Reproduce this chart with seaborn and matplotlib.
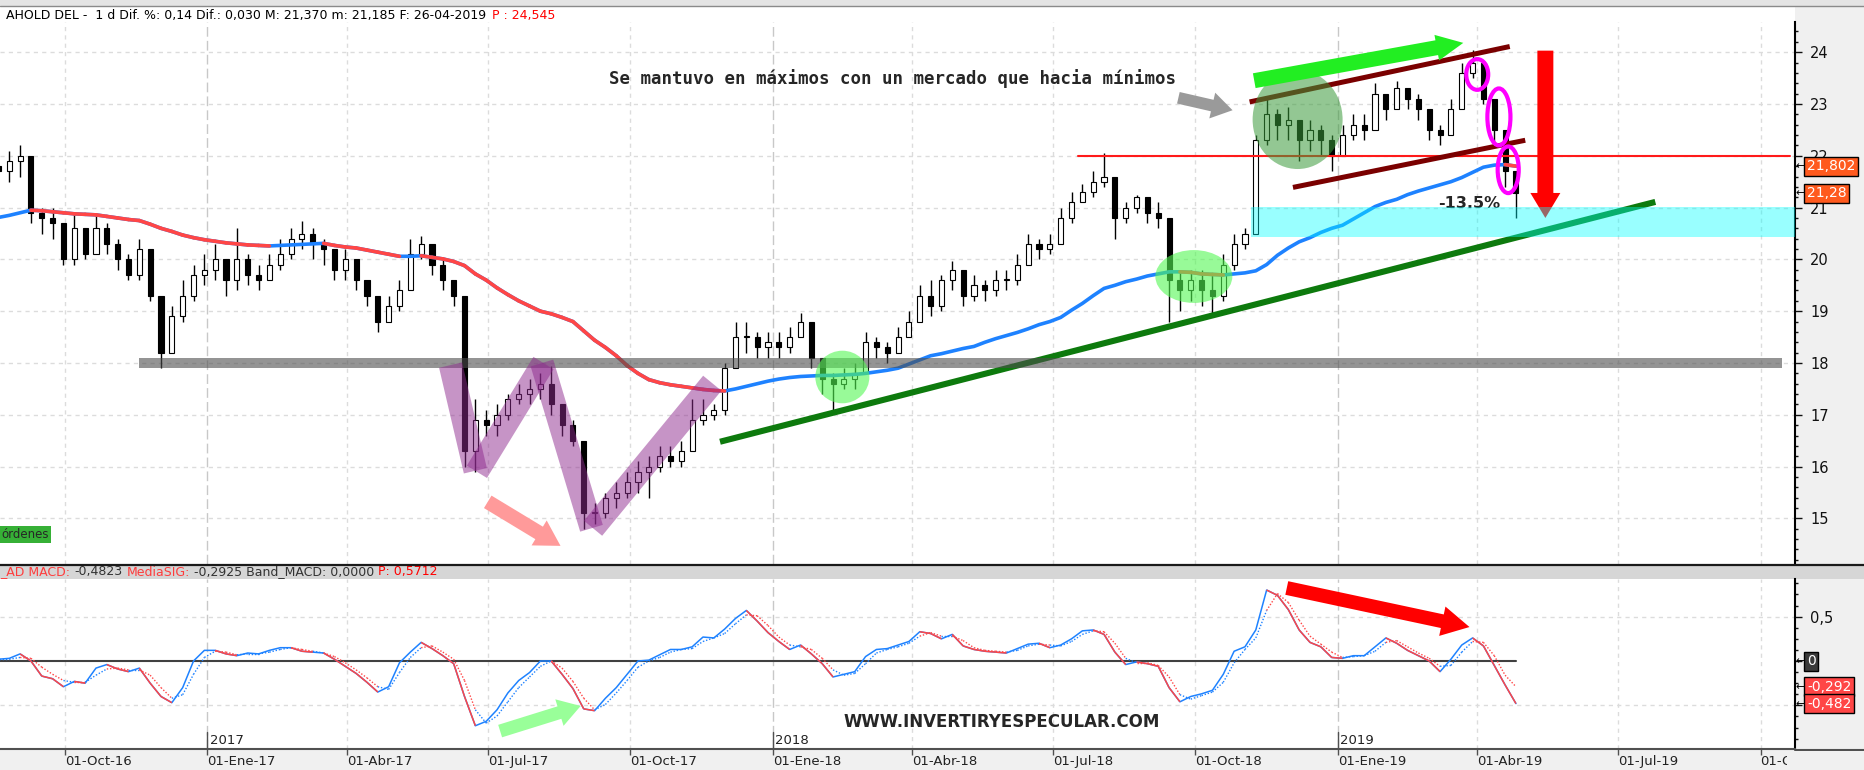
import numpy as np
import pandas as pd
import seaborn as sns
import matplotlib.pyplot as plt
import matplotlib.dates as mdates
from matplotlib.collections import LineCollection
from matplotlib.patches import Ellipse, Rectangle
from matplotlib.lines import Line2D
from matplotlib.ticker import MultipleLocator, FixedLocator

# weekly candles (AHOLD DEL)
week_end = pd.date_range('2016-08-19', '2019-04-26', freq='W-FRI')

close = [21.7, 21.9, 22.0, 20.9, 20.8, 20.7, 20.0, 20.6, 20.1, 20.6,
         20.3, 20.0, 19.7, 20.2, 19.3, 18.2, 18.9, 19.3, 19.7, 19.8,
         20.0, 19.6, 20.0, 19.7, 19.6, 19.9, 20.1, 20.4, 20.5, 20.3,
         20.2, 19.8, 20.0, 19.6, 19.3, 18.8, 19.1, 19.4, 20.1, 20.3,
         19.9, 19.6, 19.3, 16.3, 16.9, 16.8, 17.0, 17.3, 17.4, 17.5,
         17.6, 17.2, 16.8, 16.5, 15.1, 15.1, 15.4, 15.5, 15.7, 15.9,
         16.0, 16.2, 16.1, 16.3, 16.9, 17.0, 17.1, 17.9, 18.5, 18.5,
         18.3, 18.4, 18.3, 18.5, 18.8, 18.1, 17.7, 17.6, 17.7, 17.8,
         18.4, 18.3, 18.2, 18.5, 18.8, 19.3, 19.1, 19.6, 19.8, 19.3,
         19.5, 19.4, 19.6, 19.6, 19.9, 20.3, 20.2, 20.3, 20.8, 21.1,
         21.3, 21.5, 21.6, 20.8, 21.0, 21.2, 20.9, 20.8, 19.6, 19.4,
         19.6, 19.4, 19.3, 19.9, 20.3, 20.5, 22.3, 22.8, 22.6, 22.7,
         22.3, 22.5, 22.3, 22.0, 22.4, 22.6, 22.5, 23.2, 22.9, 23.3,
         23.1, 22.9, 22.5, 22.4, 22.9, 23.6, 23.8, 23.1, 22.5, 21.7,
         21.28]
opens = [21.8] + close[:-1]
high = [22.0, 22.1, 22.2, 22.0, 21.0, 21.0, 20.7, 20.9, 20.6, 20.9,
        20.7, 20.4, 20.1, 20.4, 20.2, 19.3, 19.1, 19.6, 19.9, 20.1,
        20.3, 20.0, 20.6, 20.1, 19.9, 20.1, 20.4, 20.6, 20.75, 20.6,
        20.4, 20.2, 20.2, 20.0, 19.6, 19.3, 19.3, 19.6, 20.4, 20.45,
        20.3, 20.0, 19.6, 19.3, 17.3, 17.1, 17.2, 17.4, 17.6, 17.7,
        17.8, 17.95, 17.2, 16.9, 16.5, 15.3, 15.5, 15.7, 15.9, 16.1,
        16.2, 16.4, 16.4, 16.5, 17.3, 17.3, 17.2, 18.0, 18.8, 18.8,
        18.6, 18.6, 18.6, 18.7, 18.97, 18.8, 18.1, 17.8, 17.9, 18.0,
        18.6, 18.5, 18.4, 18.7, 19.0, 19.5, 19.6, 19.7, 19.96, 19.6,
        19.7, 19.6, 19.8, 19.8, 20.1, 20.5, 20.4, 20.5, 21.0, 21.3,
        21.45, 21.7, 22.05, 21.6, 21.1, 21.25, 21.2, 21.1, 20.8, 19.8,
        19.8, 19.8, 19.7, 20.1, 20.5, 20.6, 22.4, 23.13, 22.9, 22.95,
        22.7, 22.7, 22.6, 22.4, 22.6, 22.8, 22.8, 23.4, 23.2, 23.45,
        23.3, 23.2, 22.9, 22.6, 23.1, 23.8, 24.05, 23.8, 23.1, 22.5,
        21.7]
low = [21.5, 21.5, 21.6, 20.7, 20.5, 20.4, 19.9, 19.9, 20.0, 20.1,
       20.1, 19.8, 19.6, 19.6, 19.2, 17.9, 18.2, 18.8, 19.2, 19.5,
       19.6, 19.3, 19.4, 19.5, 19.4, 19.6, 19.8, 20.0, 20.2, 20.0,
       19.9, 19.6, 19.6, 19.4, 19.1, 18.6, 18.8, 19.0, 19.4, 20.0,
       19.7, 19.4, 19.1, 16.0, 15.9, 16.6, 16.6, 16.9, 17.2, 17.2,
       17.3, 17.0, 16.6, 16.4, 14.8, 14.9, 15.0, 15.2, 15.4, 15.5,
       15.4, 15.9, 16.0, 16.0, 16.3, 16.8, 16.9, 17.0, 17.9, 18.2,
       18.1, 18.1, 18.1, 18.2, 18.5, 17.9, 17.4, 17.1, 17.5, 17.5,
       17.8, 18.1, 18.0, 18.2, 18.5, 18.8, 18.9, 19.0, 19.4, 19.1,
       19.2, 19.2, 19.3, 19.4, 19.5, 19.9, 20.0, 20.1, 20.3, 20.7,
       21.1, 21.2, 21.4, 20.4, 20.7, 20.9, 20.7, 20.6, 18.8, 19.0,
       19.2, 19.1, 18.9, 19.2, 19.8, 20.2, 20.5, 22.2, 22.3, 22.3,
       21.9, 22.1, 22.0, 21.7, 22.0, 22.3, 22.3, 22.5, 22.7, 22.9,
       22.9, 22.7, 22.3, 22.2, 22.4, 22.9, 23.5, 23.0, 22.2, 21.4,
       20.8]
ma200 = [20.81, 20.85, 20.90, 20.95, 20.94, 20.92, 20.90, 20.88, 20.87, 20.86,
         20.83, 20.80, 20.77, 20.75, 20.68, 20.60, 20.54, 20.47, 20.42, 20.38,
         20.35, 20.32, 20.30, 20.28, 20.27, 20.26, 20.27, 20.28, 20.29, 20.30,
         20.31, 20.27, 20.24, 20.22, 20.18, 20.14, 20.10, 20.06, 20.06, 20.07,
         20.04, 20.01, 19.96, 19.88, 19.72, 19.60, 19.45, 19.32, 19.20, 19.10,
         19.00, 18.95, 18.88, 18.80, 18.62, 18.44, 18.30, 18.14, 17.95, 17.80,
         17.68, 17.62, 17.58, 17.55, 17.52, 17.49, 17.47, 17.46, 17.50, 17.55,
         17.60, 17.65, 17.69, 17.72, 17.74, 17.75, 17.76, 17.76, 17.77, 17.78,
         17.80, 17.83, 17.86, 17.90, 17.98, 18.06, 18.14, 18.18, 18.23, 18.28,
         18.32, 18.40, 18.47, 18.53, 18.59, 18.66, 18.74, 18.80, 18.88, 19.02,
         19.15, 19.30, 19.44, 19.50, 19.57, 19.62, 19.68, 19.72, 19.76, 19.76,
         19.75, 19.72, 19.71, 19.70, 19.72, 19.74, 19.78, 19.90, 20.08, 20.22,
         20.34, 20.42, 20.52, 20.60, 20.66, 20.78, 20.90, 21.02, 21.10, 21.16,
         21.25, 21.32, 21.38, 21.44, 21.50, 21.58, 21.68, 21.78, 21.82, 21.83,
         21.80]
macd = [0.02, 0.03, 0.08, 0.00, -0.17, -0.20, -0.29, -0.23, -0.25, -0.08,
        -0.04, -0.09, -0.12, -0.08, -0.25, -0.40, -0.47, -0.30, 0.00, 0.12,
        0.12, 0.08, 0.06, 0.09, 0.08, 0.12, 0.15, 0.15, 0.11, 0.10,
        0.09, 0.02, -0.06, -0.14, -0.24, -0.35, -0.29, -0.02, 0.10, 0.21,
        0.14, 0.06, -0.03, -0.40, -0.73, -0.68, -0.55, -0.36, -0.22, -0.13,
        0.00, 0.00, -0.15, -0.31, -0.54, -0.56, -0.42, -0.30, -0.15, 0.00,
        0.01, 0.07, 0.13, 0.13, 0.16, 0.27, 0.26, 0.36, 0.48, 0.57,
        0.45, 0.32, 0.22, 0.13, 0.18, 0.08, -0.03, -0.18, -0.15, -0.12,
        0.05, 0.13, 0.14, 0.18, 0.22, 0.33, 0.31, 0.25, 0.30, 0.17,
        0.13, 0.11, 0.10, 0.09, 0.14, 0.19, 0.20, 0.15, 0.18, 0.25,
        0.34, 0.35, 0.30, 0.10, -0.04, -0.01, -0.03, -0.06, -0.30, -0.46,
        -0.40, -0.37, -0.33, -0.15, 0.11, 0.16, 0.35, 0.80, 0.74, 0.58,
        0.35, 0.21, 0.16, 0.04, 0.03, 0.06, 0.06, 0.16, 0.26, 0.20,
        0.12, 0.06, 0.00, -0.12, 0.02, 0.18, 0.26, 0.17, -0.05, -0.27,
        -0.48]
macd_sig = [0.02, 0.02, 0.04, 0.03, -0.07, -0.15, -0.22, -0.24, -0.24, -0.16,
            -0.09, -0.08, -0.10, -0.10, -0.16, -0.30, -0.42, -0.38, -0.15, 0.04,
            0.11, 0.10, 0.07, 0.08, 0.08, 0.10, 0.13, 0.15, 0.13, 0.11,
            0.09, 0.05, -0.02, -0.10, -0.19, -0.29, -0.32, -0.13, 0.04, 0.15,
            0.17, 0.10, 0.02, -0.22, -0.55, -0.70, -0.62, -0.46, -0.30, -0.18,
            -0.06, 0.00, -0.08, -0.23, -0.42, -0.55, -0.49, -0.36, -0.22, -0.07,
            0.00, 0.04, 0.10, 0.13, 0.14, 0.22, 0.26, 0.31, 0.42, 0.52,
            0.51, 0.40, 0.27, 0.18, 0.16, 0.13, 0.03, -0.10, -0.16, -0.14,
            -0.03, 0.09, 0.13, 0.16, 0.20, 0.28, 0.32, 0.28, 0.28, 0.23,
            0.15, 0.12, 0.11, 0.10, 0.12, 0.17, 0.19, 0.18, 0.17, 0.22,
            0.30, 0.34, 0.33, 0.20, 0.03, -0.02, -0.02, -0.05, -0.18, -0.38,
            -0.43, -0.39, -0.35, -0.24, -0.02, 0.13, 0.26, 0.57, 0.76, 0.66,
            0.46, 0.28, 0.19, 0.10, 0.04, 0.05, 0.06, 0.11, 0.21, 0.23,
            0.16, 0.09, 0.03, -0.06, -0.05, 0.10, 0.22, 0.21, 0.06, -0.16,
            -0.29]

# date axis
quarters = pd.date_range('2016-10-01', '2019-10-01', freq='QS')
mes = {1: 'Ene', 4: 'Abr', 7: 'Jul', 10: 'Oct'}
quarter_labels = [f"01-{mes[d.month]}-{d.strftime('%y')}" for d in quarters]
years = ['2017', '2018', '2019']
price_ticks = list(range(15, 25))

# hand drawn marks on the chart (date, price)
support_dates, support_level = ['2016-11-18', '2019-10-15'], 18.0
trend_dates, trend_prices = ['2017-11-28', '2019-07-25'], [16.48, 21.11]
chan_up_dates, chan_up = ['2018-11-05', '2019-04-22'], [23.04, 24.11]
chan_lo_dates, chan_lo = ['2018-12-03', '2019-05-02'], [21.39, 22.30]
prev_high_dates, prev_high = ['2018-07-17', '2019-10-20'], 22.0
zig_dates = [('2017-06-07', '2017-06-23'), ('2017-06-24', '2017-08-06'),
             ('2017-08-05', '2017-09-06'), ('2017-09-07', '2017-11-23')]
zig_prices = [(17.96, 15.92), (15.90, 18.00), (18.00, 14.81), (14.81, 17.61)]
blob_dates = ['2018-02-15', '2018-09-30', '2018-12-06']
blob_prices = [17.73, 19.67, 22.70]
blob_w = [34.9, 49.7, 58.1]
blob_h = [1.015, 1.02, 1.91]
ring_dates = ['2019-04-01', '2019-04-15', '2019-04-21']
ring_prices = [23.57, 22.75, 21.73]
ring_w = [14.2, 14.9, 13.6]
ring_h = [0.593, 1.10, 0.90]
zone_start, zone_lo, zone_hi = '2018-11-06', 20.43, 21.01

sns.set_theme(style='white')
plt.rcParams['font.family'] = ['DejaVu Sans']

W, H = 1865, 770
fig = plt.figure(figsize=(W / 100, H / 100), dpi=100, facecolor='#f0f0f0')


def fy(y):
    return 1 - y / H


def dn(s):
    return mdates.date2num(pd.Timestamp(s))


ax = fig.add_axes([0, fy(564), 1795 / W, (564 - 22) / H])
ax2 = fig.add_axes([0, fy(749), 1795 / W, (749 - 579) / H])

base = dn('2016-10-01')
x_left, x_right = base - 65 / 1.5485, base + 1730 / 1.5485
xd = mdates.date2num(week_end)

BLUE, RED = '#1e82ff', '#ff4646'


def segments(x, y):
    pts = np.column_stack([x, y])
    return np.stack([pts[:-1], pts[1:]], axis=1)


def arrow(a, tail, head, color, tw, hw, hl, z=7):
    a.annotate('', xy=head, xytext=tail,
               arrowprops=dict(arrowstyle=f'simple,head_length={hl},head_width={hw},tail_width={tw}',
                               mutation_scale=1, fc=color, ec='none', lw=0, shrinkA=0, shrinkB=0),
               zorder=z, annotation_clip=False)


# grid
for a in (ax, ax2):
    a.set_facecolor('white')
    for q in quarters:
        yr = q.month == 1
        a.axvline(dn(q), color='#c8c8c8' if yr else '#dcdcdc', lw=1,
                  ls=(0, (7, 3)) if yr else (0, (3, 3)), zorder=0.5)
for p in price_ticks:
    ax.axhline(p, color='#dcdcdc', lw=1, ls=(0, (3, 3)), zorder=0.5)
for m in (-0.5, 0.5):
    ax2.axhline(m, color='#dcdcdc', lw=1, ls=(0, (3, 3)), zorder=0.5)

# candles
c, o = np.array(close), np.array(opens)
up = c >= o
ax.vlines(xd, low, high, color='black', lw=1, zorder=2)
ax.bar(xd, np.maximum(np.abs(c - o), 0.03), bottom=np.minimum(c, o), width=3.3,
       color=np.where(up, 'white', 'black'), edgecolor='black', lw=0.8, zorder=2.1)

# 200 session average, red while falling
sns.lineplot(x=xd, y=ma200, ax=ax, color=BLUE, lw=2.6, zorder=3)
falling = np.diff(ma200) < 0
ax.add_collection(LineCollection(segments(xd, ma200)[falling], colors=RED, lw=2.6,
                                 capstyle='round', zorder=3.1))

# drawn lines
ax.plot([dn(d) for d in prev_high_dates], [prev_high] * 2, color='#ff1a1a', lw=1.5, zorder=3)
ax.plot([dn(d) for d in support_dates], [support_level] * 2, color='#4d4d4d', alpha=0.6,
        lw=7.2, solid_capstyle='butt', zorder=5)
ax.plot([dn(d) for d in trend_dates], trend_prices, color='#0d7a0d', lw=4.4,
        solid_capstyle='butt', zorder=4)
for dts, ps in ((chan_up_dates, chan_up), (chan_lo_dates, chan_lo)):
    ax.plot([dn(d) for d in dts], ps, color='#7a0000', lw=3.6, solid_capstyle='butt', zorder=4)
for dts, ps in zip(zig_dates, zig_prices):
    ax.plot([dn(d) for d in dts], ps, color='#8e2a8e', alpha=0.5, lw=17,
            solid_capstyle='butt', zorder=6)

for d, p, w, h, fc, al in zip(blob_dates, blob_prices, blob_w, blob_h,
                              ['#53f853', '#53f853', '#3a9a3a'], [0.6, 0.6, 0.55]):
    ax.add_patch(Ellipse((dn(d), p), w, h, fc=fc, ec='none', alpha=al, zorder=6))
for d, p, w, h in zip(ring_dates, ring_prices, ring_w, ring_h):
    ax.add_patch(Ellipse((dn(d), p), w, h, fill=False, ec='#ff00ff', lw=3, zorder=9))

arrow(ax, (dn('2018-11-08'), 23.45), (dn('2019-03-23'), 24.18), '#22ee22', 10.8, 18.7, 19.4)
arrow(ax, (dn('2018-09-20'), 23.12), (dn('2018-10-25'), 22.88), '#9a9a9a', 8.5, 19, 15)
arrow(ax, (dn('2017-07-01'), 15.32), (dn('2017-08-17'), 14.47), '#ff9a9a', 10.5, 21, 18)
arrow(ax, (dn('2019-05-15'), 24.03), (dn('2019-05-15'), 20.80), '#ff0000', 11.5, 21.6, 18)

ax.text(dn('2017-09-17'), 23.49, 'Se mantuvo en máximos con un mercado que hacia mínimos',
        family='DejaVu Sans Mono', fontweight='bold', fontsize=12.5, ha='left', va='center', zorder=7)
ax.text(dn('2019-03-07'), 21.07, '-13.5%', fontweight='bold', fontsize=11.5,
        ha='left', va='center', zorder=7)
ax.fill_between([dn(zone_start), x_right], zone_lo, zone_hi, color='#00ffff', alpha=0.4, lw=0, zorder=8)
ax.text(0.001, (564 - 534.5) / 542, 'órdenes', transform=ax.transAxes, fontsize=8.5, ha='left',
        va='center', zorder=7, bbox=dict(boxstyle='square,pad=0.18', fc='#36b036', ec='none'))

# MACD panel
sns.lineplot(x=xd, y=macd, ax=ax2, color=BLUE, lw=1.1, zorder=3)
below = (np.array(macd) < np.array(macd_sig))[1:]
ax2.add_collection(LineCollection(segments(xd, macd)[below], colors=RED, lw=1.1, zorder=3.1))
ax2.add_collection(LineCollection(segments(xd, macd_sig), colors=np.where(below, RED, BLUE),
                                  lw=1.0, linestyles=[(0, (1, 1.3))], zorder=3))
ax2.plot([xd[0], xd[-1]], [0, 0], color='#404040', lw=1.5, zorder=2)
arrow(ax2, (dn('2018-11-29'), 0.823), (dn('2019-03-27'), 0.383), '#ff0000', 10, 21.6, 20)
arrow(ax2, (dn('2017-07-09'), -0.79), (dn('2017-08-30'), -0.507), '#99ff99', 9.4, 20, 16)
ax2.text(dn('2018-02-16'), -0.688, 'WWW.INVERTIRYESPECULAR.COM', fontweight='bold',
         fontsize=12, ha='left', va='center', zorder=7)

# axes styling
for a in (ax, ax2):
    a.set_xlim(x_left, x_right)
    a.set_xlabel('')
    a.set_ylabel('')
    for s in ('left', 'top'):
        a.spines[s].set_visible(False)
    a.spines['right'].set_color('black')
    a.spines['right'].set_linewidth(1.5)
    a.tick_params(axis='y', which='both', left=False, labelleft=False, right=True,
                  labelright=True, direction='out', colors='#111111')
    a.tick_params(axis='y', which='major', length=5, width=1, labelsize=10.5, pad=6)
    a.tick_params(axis='y', which='minor', length=2.5, width=1)

ax.spines['bottom'].set_visible(False)
ax.tick_params(axis='x', bottom=False, labelbottom=False)
ax.set_ylim(14.12, 24.583)
ax.yaxis.set_major_locator(FixedLocator(price_ticks))
ax.set_yticklabels([str(p) for p in price_ticks])
ax.yaxis.set_minor_locator(MultipleLocator(0.2))

ax2.set_ylim(-0.9921, 0.9245)
ax2.yaxis.set_major_locator(FixedLocator([-0.5, 0, 0.5]))
ax2.set_yticklabels(['', '', '0,5'])
ax2.yaxis.set_minor_locator(MultipleLocator(0.125))
ax2.spines['bottom'].set_color('#505050')
ax2.spines['bottom'].set_linewidth(1.5)
ax2.set_xticks(mdates.date2num(quarters))
ax2.set_xticklabels(quarter_labels, fontsize=9.5, color='#222222', ha='left')
ax2.tick_params(axis='x', bottom=True, direction='out', length=4.5, width=1,
                color='#505050', pad=0)
for yr in years:
    xj = dn(f'{yr}-01-01')
    ax2.axvline(xj, ymin=0, ymax=0.1, color='#505050', lw=1, zorder=2)
    ax2.text(xj + 1.5, 9 / 170, yr, transform=ax2.get_xaxis_transform(), fontsize=9.5,
             ha='left', va='center', color='#222222')


def tag(a, y, txt, fc):
    a.annotate(txt, xy=(1, y), xycoords=('axes fraction', 'data'), xytext=(12, 0),
               textcoords='offset pixels', ha='left', va='center', fontsize=10, color='white',
               annotation_clip=False, zorder=10,
               bbox=dict(boxstyle='square,pad=0.18', fc=fc, ec='black', lw=1))
    a.annotate('←', xy=(1, y), xycoords=('axes fraction', 'data'), xytext=(1, 0),
               textcoords='offset pixels', ha='left', va='center', fontsize=8,
               color='black', annotation_clip=False, zorder=10)


tag(ax, 21.802, '21,802', '#ff5a1e')
tag(ax, 21.28, '21,28', '#ff5a1e')
tag(ax2, 0, '0', '#3a3a3a')
tag(ax2, -0.2925, '-0,292', RED)
tag(ax2, -0.4823, '-0,482', RED)

# window chrome around the panels
fig.add_artist(Rectangle((0, fy(6)), 1, 6 / H, transform=fig.transFigure, fc='#e4e4e4', ec='none', zorder=-1))
fig.add_artist(Rectangle((0, fy(22)), 1795 / W, 16 / H, transform=fig.transFigure, fc='white', ec='none', zorder=-1))
fig.add_artist(Rectangle((0, fy(579)), 1, 15 / H, transform=fig.transFigure, fc='#d6d6d6', ec='none', zorder=-1))
fig.add_artist(Line2D([0, 1], [fy(6)] * 2, color='#8a8a8a', lw=1))
fig.add_artist(Line2D([0, 1], [fy(564.5)] * 2, color='#1a1a1a', lw=1.6))
fig.add_artist(Line2D([1795 / W, 1], [fy(749.5)] * 2, color='#505050', lw=1.5))
fig.add_artist(Rectangle((1787 / W, 0), (W - 1787) / W, 19 / H, transform=fig.transFigure,
                         fc='#f0f0f0', ec='none', zorder=5))

t1 = fig.text(6 / W, fy(15), 'AHOLD DEL -  1 d Dif. %: 0,14 Dif.: 0,030 M: 21,370 m: 21,185 F: 26-04-2019',
              fontsize=9, color='black', ha='left', va='center')
ax.annotate('P : 24,545', xy=(1, 0.5), xycoords=t1, xytext=(4, 0), textcoords='offset points',
            fontsize=9, color='#ff0000', ha='left', va='center', annotation_clip=False)

prev = fig.text(0, fy(572), '_AD MACD:', fontsize=9, color='#ff3c3c', ha='left', va='center')
for s, col in [('-0,4823', '#333333'), ('MediaSIG:', '#ff3c3c'),
               ('-0,2925 Band_MACD: 0,0000', '#333333'), ('P: 0,5712', '#ff0000')]:
    prev = ax.annotate(s, xy=(1, 0.5), xycoords=prev, xytext=(3, 0), textcoords='offset points',
                       fontsize=9, color=col, ha='left', va='center', annotation_clip=False)

fig.savefig('out.png', dpi=100, facecolor=fig.get_facecolor())
